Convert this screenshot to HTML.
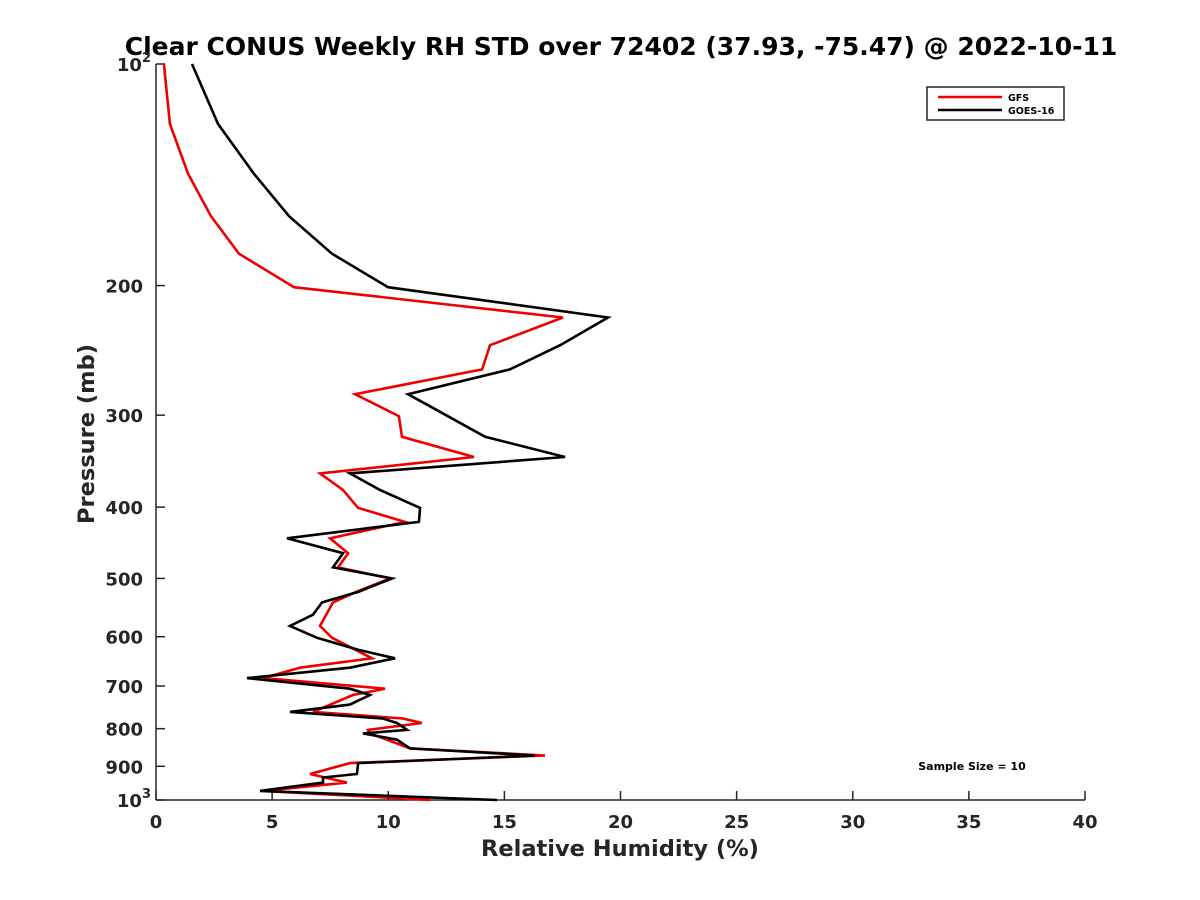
<!DOCTYPE html>
<html><head><meta charset="utf-8"><style>
body{margin:0;background:#fff}
svg{display:block;font-family:"DejaVu Sans","Liberation Sans",sans-serif;font-weight:bold}
</style></head><body>
<svg id="chart" width="1200" height="900" viewBox="0 0 1200 900">
<rect width="1200" height="900" fill="#fff"/>
<text x="621" y="55" text-anchor="middle" font-size="25" fill="#000">Clear CONUS Weekly RH STD over 72402 (37.93, -75.47) @ 2022-10-11</text>
<g id="axes"></g>
<g id="series"></g>
<text x="620" y="856" text-anchor="middle" font-size="22.5" fill="#262626">Relative Humidity (%)</text>
<text transform="translate(94,434) rotate(-90)" text-anchor="middle" font-size="22.5" fill="#262626">Pressure (mb)</text>
<text x="972" y="770" text-anchor="middle" font-size="11" fill="#000">Sample Size = 10</text>
<g>
<rect x="927" y="87" width="137" height="33" fill="#fff" stroke="#262626" stroke-width="1.5"/>
<line x1="938" y1="97" x2="1002" y2="97" stroke="#e00" stroke-width="2.5"/>
<text x="1008" y="101" font-size="9.5">GFS</text>
<line x1="938" y1="110" x2="1002" y2="110" stroke="#000" stroke-width="2.5"/>
<text x="1008" y="114" font-size="9.5">GOES-16</text>
</g>
</svg>
<script>
const xTicks=[0,5,10,15,20,25,30,35,40];
const yTicks=[100,200,300,400,500,600,700,800,900,1000];
const yTickLabels=["10²","200","300","400","500","600","700","800","900","10³"];
const goesP=[100,120.6,141,161,181,201,221,241,260,281,301,321,342,360,379,401,419,441,462,483,500,521,539,560,580,602,625,642,661,683,706,720,742,759,775,786,803,812,828,851,870,891,922,932,947,972,1000];
const goesRH=[1.55,2.67,4.22,5.73,7.58,9.99,19.46,17.4,15.24,10.85,12.57,14.17,17.61,8.35,9.64,11.37,11.32,5.64,8.05,7.62,10.16,8.74,7.15,6.76,5.77,6.93,8.7,10.29,8.35,3.92,8.35,9.21,8.35,5.77,9.77,10.38,10.81,8.91,10.38,10.94,16.32,8.7,8.65,7.19,7.19,4.48,14.68];
const gfsP=[100,120.6,141,161,181,201,221,241,260,281,301,321,342,360,379,401,419,441,462,483,500,521,539,580,602,642,661,683,706,720,759,775,786,803,812,851,870,891,922,947,972,1000];
const gfsRH=[0.34,0.6,1.38,2.37,3.57,5.94,17.52,14.38,14.04,8.57,10.46,10.59,13.69,7.06,8.05,8.7,10.72,7.49,8.27,7.84,10.08,8.65,7.62,7.06,7.58,9.3,6.2,4.61,9.86,8.48,6.76,10.63,11.45,9.13,9.21,10.94,16.75,8.35,6.63,8.22,4.61,11.8];
const L=156,R=1085,T=64,B=800;
const xs=v=>L+(v-0)/(40-0)*(R-L);
const ys=p=>T+Math.log10(p/100)*(B-T);
const NS="http://www.w3.org/2000/svg";
function mk(tag,at,parent){const e=document.createElementNS(NS,tag);for(const k in at)e.setAttribute(k,at[k]);parent.appendChild(e);return e;}
const ax=document.getElementById('axes');
let e=mk('line',{x1:L,y1:T,x2:L,y2:B,stroke:'#262626','stroke-width':1.5},ax);


e=mk('line',{x1:L,y1:B,x2:R,y2:B,stroke:'#262626','stroke-width':1.5},ax);


xTicks.forEach(v=>{
 const x=xs(v);
 const t=mk('line',{x1:x,y1:B,x2:x,y2:B-9,stroke:'#262626','stroke-width':1.5},ax);
 
 
 const lb=mk('text',{x:x,y:B+28,'text-anchor':'middle','font-size':18,fill:'#262626'},ax);
 lb.textContent=v;
 
 
});
yTicks.forEach((p,i)=>{
 const y=ys(p);
 const t=mk('line',{x1:L,y1:y,x2:L+9,y2:y,stroke:'#262626','stroke-width':1.5},ax);
 
 
 const lb=mk('text',{x:L-13,y:y+7,'text-anchor':'end','font-size':18,fill:'#262626'},ax);
 const s=yTickLabels[i];
 if(s.length===3&&(s[2]==='²'||s[2]==='³')){
  lb.textContent='10';
  const sp=mk('tspan',{dy:-9,'font-size':13},lb);sp.textContent=s[2]==='²'?'2':'3';
  lb.setAttribute('x',L-5);
 } else lb.textContent=s;
 
 
});
const sg=document.getElementById('series');
function drawLine(P,V,color,name){
 const pts=P.map((p,i)=>xs(V[i]).toFixed(1)+','+ys(p).toFixed(1)).join(' ');
 const pl=mk('polyline',{points:pts,fill:'none',stroke:color,'stroke-width':2.6,'stroke-linejoin':'miter'},sg);
 
 
}
drawLine(gfsP,gfsRH,'#e00','gfs-line');
drawLine(goesP,goesRH,'#000','goes16-line');
</script>
</body></html>
